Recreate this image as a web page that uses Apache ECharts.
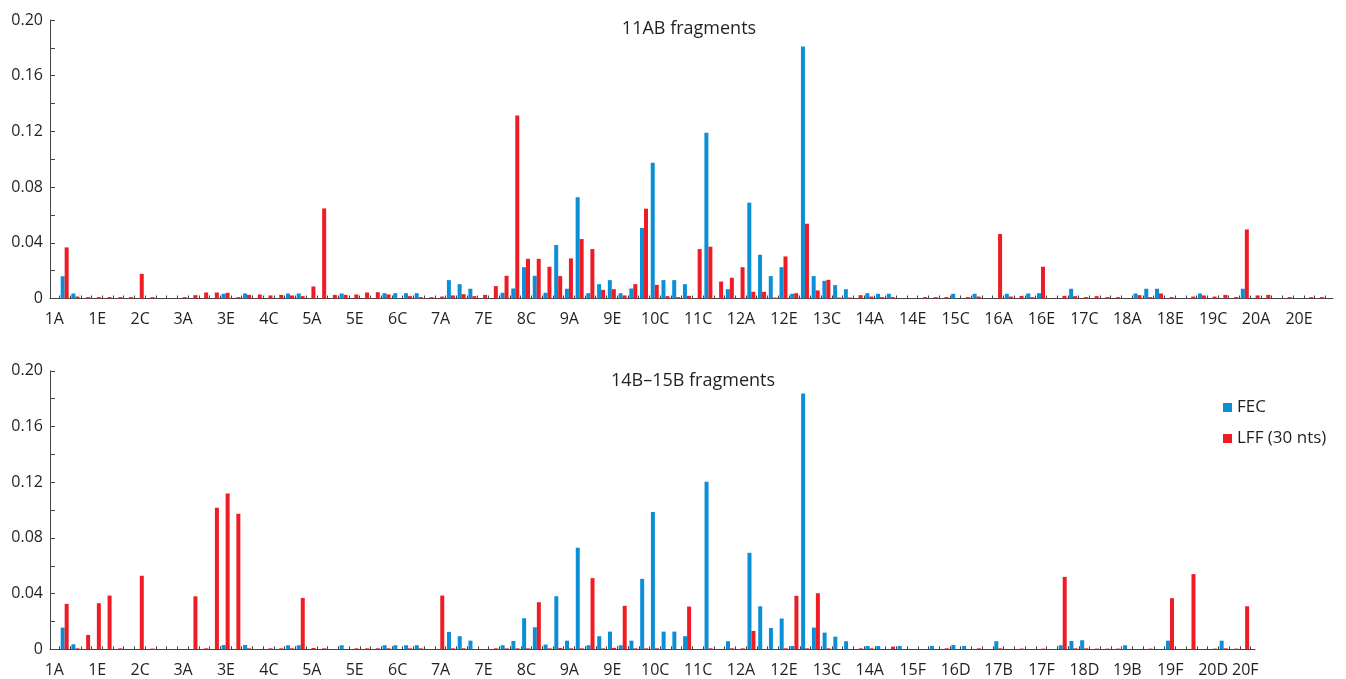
<!DOCTYPE html>
<html>
<head>
<meta charset="utf-8">
<script src="https://cdn.jsdelivr.net/npm/echarts@6/dist/echarts.min.js"></script>
<style>
  html, body { margin: 0; padding: 0; background: #fff; }
  #chart { width: 1346px; height: 679px; }
</style>
</head>
<body>
<div id="chart"></div>
<script>
// categories: 11A/11B are left out of both panels, 14B..15B also out of the lower one
const topCategories = [
  '1A','1B','1C','1D','1E','1F', '2A','2B','2C','2D','2E','2F',
  '3A','3B','3C','3D','3E','3F', '4A','4B','4C','4D','4E','4F',
  '5A','5B','5C','5D','5E','5F', '6A','6B','6C','6D','6E','6F',
  '7A','7B','7C','7D','7E','7F', '8A','8B','8C','8D','8E','8F',
  '9A','9B','9C','9D','9E','9F', '10A','10B','10C','10D','10E','10F',
  '11C','11D','11E','11F',
  '12A','12B','12C','12D','12E','12F', '13A','13B','13C','13D','13E','13F',
  '14A','14B','14C','14D','14E','14F', '15A','15B','15C','15D','15E','15F',
  '16A','16B','16C','16D','16E','16F', '17A','17B','17C','17D','17E','17F',
  '18A','18B','18C','18D','18E','18F', '19A','19B','19C','19D','19E','19F',
  '20A','20B','20C','20D','20E','20F'
];
const bottomCategories = [
  '1A','1B','1C','1D','1E','1F', '2A','2B','2C','2D','2E','2F',
  '3A','3B','3C','3D','3E','3F', '4A','4B','4C','4D','4E','4F',
  '5A','5B','5C','5D','5E','5F', '6A','6B','6C','6D','6E','6F',
  '7A','7B','7C','7D','7E','7F', '8A','8B','8C','8D','8E','8F',
  '9A','9B','9C','9D','9E','9F', '10A','10B','10C','10D','10E','10F',
  '11C','11D','11E','11F',
  '12A','12B','12C','12D','12E','12F', '13A','13B','13C','13D','13E','13F',
  '14A',
  '15C','15D','15E','15F',
  '16A','16B','16C','16D','16E','16F', '17A','17B','17C','17D','17E','17F',
  '18A','18B','18C','18D','18E','18F', '19A','19B','19C','19D','19E','19F',
  '20A','20B','20C','20D','20E','20F'
];

// text labels under each axis, one every 4 categories (the lower one ends on 20F)
const topTickLabels = ['1A','1E','2C','3A','3E','4C','5A','5E','6C','7A','7E','8C','9A','9E','10C',
  '11C','12A','12E','13C','14A','14E','15C','16A','16E','17C','18A','18E','19C','20A','20E'];
const bottomTickLabels = ['1A','1E','2C','3A','3E','4C','5A','5E','6C','7A','7E','8C','9A','9E','10C',
  '11C','12A','12E','13C','14A','15F','16D','17B','17F','18D','19B','19F','20D','20F'];

// 11AB fragments
const topFEC = [
  .016,.0036,0,0,0,0,  0,0,0,0,0,0,
  0,0,0,.0034,0,.0036,  0,0,0,.0036,.0036,0,
  0,0,.0036,0,0,0,  .0038,.0038,.0038,.0038,0,0,
  .0132,.0103,.007,0,0,.0041,  .0072,.0225,.0163,.0041,.0384,.007,
  .0727,.0038,.0103,.0132,.0038,.0072,  .0506,.0974,.0132,.0132,.0103,0,
  .119,0,.0067,0,
  .0688,.0314,.0161,.0225,.0034,.181,  .0161,.0127,.0096,.0067,0,.0038,
  .0034,.0034,0,0,0,0,  0,.0034,0,.0034,0,0,
  .0034,0,.0036,.0038,0,0,  .007,0,0,0,0,0,
  .0036,.007,.007,0,0,0,  .0036,0,0,0,.007,0,
  0,0,0,0,0,0
];
const topLFF = [
  .0367,.0014,.001,.001,.001,.001,  .001,.0177,.001,0,0,.001,
  .0024,.0043,.0043,.0041,.001,.0026,  .0029,.0022,.0026,.0022,.0017,.0086,
  .0647,.0026,.0026,.0029,.0043,.0045,  .0029,0,.0017,.001,.001,.0014,
  .0022,.0031,.0017,.0026,.0089,.0163,  .1314,.0285,.0285,.0228,.0161,.0288,
  .0427,.0355,.0062,.0067,.0022,.0103,  .0645,.0098,.0017,.001,.0019,.0355,
  .0372,.0122,.0149,.0225,
  .0048,.0048,.0007,.0302,.0038,.0537,  .0058,.0134,.0007,.0007,.0024,.0014,
  .001,.001,0,0,.001,.001,  .001,0,.001,.0014,0,.0463,
  .0014,.0019,.001,.0228,0,.0019,  .0017,.001,.0017,.001,.001,0,
  .0024,.001,.0036,.001,0,.0014,  .0022,.0014,.0026,.001,.0496,.0022,
  .0026,0,.001,0,.001,.001
];

// 14B-15B fragments
const bottomFEC = [
  .0156,.0036,0,0,0,0,  0,0,0,0,0,0,
  0,0,0,.0031,0,.0031,  0,0,0,.0029,.0029,0,
  0,0,.0029,0,0,0,  .0029,.0029,.0029,.0029,0,0,
  .0125,.0094,.0062,0,0,.0029,  .006,.0223,.0158,.0034,.0381,.0062,
  .0729,.0029,.0094,.0127,.0029,.0062,  .0506,.0986,.0127,.0127,.0094,0,
  .1204,0,.0058,0,
  .0693,.0309,.0153,.0221,.0024,.1837,  .0156,.012,.0091,.0058,0,.0024,
  .0024,
  0,.0024,0,0,
  .0024,0,.0031,.0024,0,0,  .0058,0,0,0,0,0,
  .0029,.006,.0065,0,0,0,  .0029,0,0,0,.0062,0,
  0,0,0,.0062,0,0
];
const bottomLFF = [
  .0326,.0007,.0103,.0331,.0386,.0007,  0,.0528,.0005,0,0,0,
  .038,.0007,.1017,.1118,.0974,.0007,  0,.0007,.0007,.0007,.0369,.001,
  .0007,0,0,.0007,.0007,.0007,  .0007,0,.0007,.0007,0,.0386,
  .0007,.0007,0,0,.0007,.0007,  .0007,.0007,.0338,.0007,.001,.0007,
  .0007,.0511,.0007,.001,.0312,.0007,  .0007,.0007,0,0,.0307,0,
  .0007,0,.0007,.0007,
  .0132,0,0,.0007,.0384,.0007,  .0403,.0007,0,0,.0007,.0007,
  0,
  .0019,0,0,0,
  0,.0007,0,0,.0007,0,  .0007,0,.0005,0,.0005,0,
  .052,.0007,.0007,.0005,.0005,.0005,  0,0,.0005,0,.0367,0,
  .054,0,.0005,.0007,.0005,.0309
];

const yLabelTicks = [0, 0.04, 0.08, 0.12, 0.16, 0.20];

const BLUE = '#0b8fd6';
const RED = '#ee1d25';
const INK = '#231f20';
const AXIS = '#444';
const FONT = 'Open Sans';

const chart = echarts.init(document.getElementById('chart'));

// plot geometry: the bars start a little right of the y axis line,
// and the text labels sit about one category left of the bars they name
const PLOT_H = 278.5;
const CAT_W = 10.73;
const LABEL_X0 = 54.3;
const panels = [
  { top: 20, right: 20.7, lineRight: 13, cats: topCategories, ticks: topTickLabels, labelMax: 116,
    fec: topFEC, lff: topLFF, title: '11AB fragments', titleLeft: 684, titleTop: 15 },
  { top: 370.8, right: 95.5, lineRight: 91, cats: bottomCategories, ticks: bottomTickLabels, labelMax: 111,
    fec: bottomFEC, lff: bottomLFF, title: '14B\u201315B fragments', titleLeft: 688, titleTop: 367 }
];

const grid = [], xAxis = [], yAxis = [], series = [], title = [];

panels.forEach((p, k) => {
  const g = k * 3;
  grid.push({ left: 59.3, right: p.right, top: p.top, height: PLOT_H });
  grid.push({ left: 50, right: p.lineRight, top: p.top, height: PLOT_H });
  grid.push({ left: LABEL_X0, right: 1346 - (LABEL_X0 + p.labelMax * CAT_W), top: p.top, height: PLOT_H });

  // categories: only the small inside ticks are drawn from this one
  xAxis.push({
    type: 'category', gridIndex: g, data: p.cats,
    axisLine: { show: false },
    axisTick: { show: true, inside: true, length: 3, interval: 0, lineStyle: { color: AXIS } },
    axisLabel: { show: false }
  });
  // plain line for the x axis, running from the y axis to the end
  xAxis.push({
    type: 'value', gridIndex: g + 1, min: 0, max: 1,
    axisLine: { show: true, lineStyle: { color: AXIS, width: 1 } },
    axisTick: { show: false }, axisLabel: { show: false }, splitLine: { show: false }
  });
  // text labels, every 4 categories
  xAxis.push({
    type: 'value', gridIndex: g + 2, min: 0, max: p.labelMax, interval: 4,
    axisLine: { show: false }, axisTick: { show: false }, splitLine: { show: false },
    axisLabel: {
      color: INK, fontFamily: FONT, fontSize: 16, margin: 13, showMaxLabel: true,
      formatter: v => v === p.labelMax ? p.ticks[p.ticks.length - 1] : (p.ticks[Math.round(v / 4)] || '')
    }
  });

  yAxis.push({
    type: 'value', gridIndex: g, min: 0, max: 0.2, interval: 0.02, offset: 9.3,
    axisLine: { show: true, lineStyle: { color: AXIS, width: 1 } },
    axisTick: { show: true, inside: true, length: 5, lineStyle: { color: AXIS } },
    splitLine: { show: false },
    axisLabel: {
      color: INK, fontFamily: FONT, fontSize: 16, margin: 7,
      formatter: v => {
        const hit = yLabelTicks.find(t => Math.abs(t - v) < 1e-9);
        if (hit === undefined) return '';
        return hit === 0 ? '0' : hit.toFixed(2);
      }
    }
  });
  yAxis.push({ type: 'value', gridIndex: g + 1, min: 0, max: 1, show: false });
  yAxis.push({ type: 'value', gridIndex: g + 2, min: 0, max: 1, show: false });

  series.push({
    name: 'FEC', type: 'bar', xAxisIndex: g, yAxisIndex: g, data: p.fec,
    barWidth: 4, barGap: '0%', itemStyle: { color: BLUE }
  });
  series.push({
    name: 'LFF (30 nts)', type: 'bar', xAxisIndex: g, yAxisIndex: g, data: p.lff,
    barWidth: 4, barGap: '0%', itemStyle: { color: RED }
  });

  title.push({
    text: p.title, left: p.titleLeft, top: p.titleTop, textAlign: 'center',
    textStyle: { color: INK, fontFamily: FONT, fontSize: 18, fontWeight: 'normal' }
  });
});

chart.setOption({
  animation: false,
  backgroundColor: '#fff',
  title: title,
  legend: {
    data: ['FEC', 'LFF (30 nts)'], orient: 'vertical', left: 1218, top: 394,
    icon: 'rect', itemWidth: 9, itemHeight: 9, itemGap: 14,
    textStyle: { color: INK, fontFamily: FONT, fontSize: 17 }
  },
  grid: grid,
  xAxis: xAxis,
  yAxis: yAxis,
  series: series
});
</script>
</body>
</html>
